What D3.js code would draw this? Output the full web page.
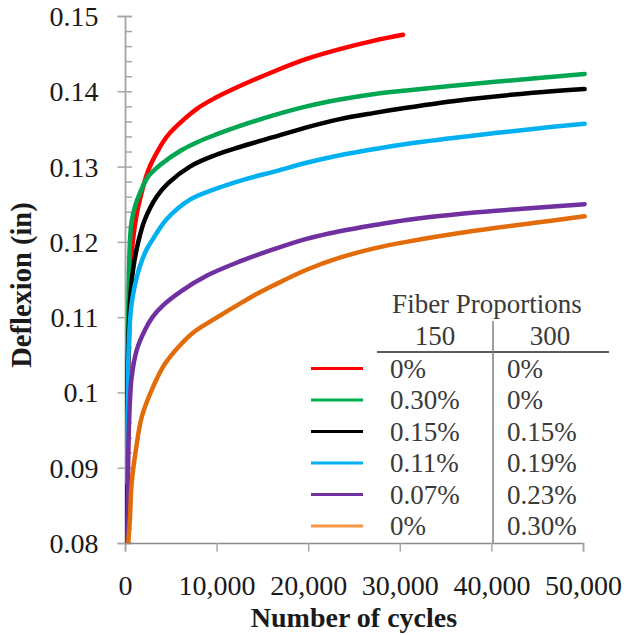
<!DOCTYPE html>
<html>
<head>
<meta charset="utf-8">
<script src="https://cdn.jsdelivr.net/npm/d3@7.9.0/dist/d3.min.js"></script>
<style>
  body { margin: 0; background: #fff; }
  svg { display: block; font-family: "Liberation Serif", "Times New Roman", serif; }
</style>
</head>
<body>
<svg id="chart" width="624" height="635"></svg>
<script>
// readings: number of cycles / deflection (in)
const redN = [300, 400, 550, 730, 1000, 1450, 2540, 3630, 4720, 6190, 8000, 9820, 12000, 16180, 19820, 23450, 27090, 30360];
const redD = [0.086, 0.104, 0.113, 0.1185, 0.1215, 0.1247, 0.1295, 0.1322, 0.1342, 0.1360, 0.1378, 0.1391, 0.1404, 0.1426, 0.1443, 0.1456, 0.1467, 0.1475];

const greenN = [180, 230, 300, 400, 545, 700, 1090, 1636, 2545, 3820, 6190, 8000, 9820, 12545, 16180, 19820, 23450, 27090, 30730, 37270, 44540, 50180];
const greenD = [0.0835, 0.096, 0.106, 0.114, 0.1202, 0.1225, 0.1247, 0.1265, 0.1287, 0.1302, 0.1322, 0.1333, 0.1342, 0.1354, 0.1368, 0.1380, 0.1389, 0.1396, 0.1401, 0.1409, 0.1417, 0.1423];

const blackN = [100, 150, 250, 400, 600, 905, 1450, 2180, 3455, 4720, 7090, 9820, 12545, 16180, 19820, 23450, 27090, 30730, 37270, 44540, 50180];
const blackD = [0.078, 0.0835, 0.100, 0.108, 0.1130, 0.1165, 0.1200, 0.1230, 0.1260, 0.1278, 0.1300, 0.1315, 0.1326, 0.1339, 0.1352, 0.1363, 0.1371, 0.1378, 0.1389, 0.1398, 0.1403];

const blueN = [200, 300, 400, 545, 725, 1090, 1636, 2365, 3270, 4545, 7090, 9820, 13090, 16180, 19820, 23450, 27090, 30730, 37270, 44540, 50180];
const blueD = [0.088, 0.100, 0.106, 0.1095, 0.1118, 0.1143, 0.1168, 0.1190, 0.1208, 0.1230, 0.1256, 0.1270, 0.1283, 0.1293, 0.1305, 0.1315, 0.1323, 0.1330, 0.1340, 0.1350, 0.1357];

const purpleN = [250, 300, 360, 545, 730, 1270, 2180, 3000, 4180, 6190, 8910, 12545, 16180, 19820, 23450, 27090, 30730, 37270, 44540, 50180];
const purpleD = [0.080, 0.087, 0.0923, 0.0990, 0.1021, 0.1056, 0.1083, 0.1100, 0.1116, 0.1135, 0.1155, 0.1174, 0.1190, 0.1204, 0.1214, 0.1222, 0.1229, 0.1238, 0.1245, 0.1250];

const orangeN = [360, 545, 725, 1180, 1820, 2910, 4360, 6190, 7500, 9820, 12545, 14730, 16180, 19820, 23450, 27090, 30730, 37270, 44540, 50180];
const orangeD = [0.080, 0.0834, 0.0879, 0.0923, 0.0967, 0.1003, 0.1038, 0.1065, 0.1080, 0.1098, 0.1118, 0.1133, 0.1142, 0.1163, 0.1179, 0.1191, 0.1200, 0.1213, 0.1225, 0.1234];

// legend table
const fiber150 = ['0%', '0.30%', '0.15%', '0.11%', '0.07%', '0%'];
const fiber300 = ['0%', '0%', '0.15%', '0.19%', '0.23%', '0.30%'];

const xTicks = [0, 10000, 20000, 30000, 40000, 50000];
const yTicks = [0.08, 0.09, 0.10, 0.11, 0.12, 0.13, 0.14, 0.15];

const series = [
  { n: redN, d: redD, color: '#ff0000', key: '#ff0000' },
  { n: greenN, d: greenD, color: '#00a651', key: '#00b050' },
  { n: blackN, d: blackD, color: '#000000', key: '#000000' },
  { n: blueN, d: blueD, color: '#00b0f0', key: '#00b0f0' },
  { n: purpleN, d: purpleD, color: '#7030a0', key: '#7030a0' },
  { n: orangeN, d: orangeD, color: '#e36c0a', key: '#f79646' }
];

const svg = d3.select('#chart');
const margin = { top: 16, right: 41, bottom: 92, left: 125 };
const width = 624 - margin.left - margin.right;
const height = 635 - margin.top - margin.bottom;

const x = d3.scaleLinear().domain([0, 50000]).range([0, width]);
const y = d3.scaleLinear().domain([0.08, 0.15]).range([height, 0]);

const g = svg.append('g').attr('transform', `translate(${margin.left},${margin.top})`);

svg.append('defs').append('clipPath').attr('id', 'plot')
  .append('rect').attr('x', 0).attr('y', -5).attr('width', width + 5).attr('height', height + 5);

// y axis: major ticks across the line, minor ticks inside
const yAxis = g.append('g')
  .call(d3.axisLeft(y).tickValues(yTicks).tickSize(7.5).tickPadding(19)
    .tickFormat(d => +d.toFixed(2)));
g.append('g')
  .call(d3.axisRight(y).tickValues(d3.range(0, 36).map(i => 0.08 + i * 0.002)).tickSize(7).tickFormat(''));

// x axis
const xAxis = g.append('g').attr('transform', `translate(0,${height})`)
  .call(d3.axisBottom(x).tickValues(xTicks).tickSize(8.5).tickPadding(24).tickFormat(d3.format(',')));

g.selectAll('.domain').attr('stroke', '#a6a6a6').attr('stroke-width', 1.5);
g.selectAll('.tick line').attr('stroke', '#a6a6a6').attr('stroke-width', 1.5);
g.selectAll('.tick text').attr('font-size', 28).attr('fill', '#1a1a1a')
  .attr('font-family', '"Liberation Serif", serif');
yAxis.selectAll('.tick text').attr('dy', '0.34em');
xAxis.select('.domain').attr('stroke', '#8c8c8c');

// axis titles
svg.append('text')
  .attr('x', margin.left + width / 2).attr('y', 627)
  .attr('text-anchor', 'middle').attr('font-weight', 'bold').attr('font-size', 28)
  .attr('fill', '#1a1a1a').text('Number of cycles');
svg.append('text')
  .attr('transform', 'translate(31,285) rotate(-90)')
  .attr('text-anchor', 'middle').attr('font-weight', 'bold').attr('font-size', 28.5)
  .attr('fill', '#1a1a1a').text('Deflexion (in)');

// curves
const line = d3.line().x(p => x(p[0])).y(p => y(p[1])).curve(d3.curveCatmullRom.alpha(0.5));
const plot = g.append('g').attr('clip-path', 'url(#plot)');
series.forEach(s => {
  plot.append('path')
    .datum(d3.zip(s.n, s.d))
    .attr('fill', 'none')
    .attr('stroke', s.color)
    .attr('stroke-width', 4.5)
    .attr('stroke-linecap', 'round')
    .attr('stroke-linejoin', 'round')
    .attr('d', line);
});

// legend table
const leg = svg.append('g').attr('font-size', 27).attr('fill', '#3a3a3a');
leg.append('text').attr('x', 487).attr('y', 313).attr('text-anchor', 'middle').text('Fiber Proportions');
leg.append('text').attr('x', 435).attr('y', 345).attr('text-anchor', 'middle').text('150');
leg.append('text').attr('x', 550).attr('y', 345).attr('text-anchor', 'middle').text('300');
leg.append('line').attr('x1', 377).attr('x2', 609).attr('y1', 352).attr('y2', 352)
  .attr('stroke', '#262626').attr('stroke-width', 1.5);
leg.append('line').attr('x1', 493).attr('x2', 493).attr('y1', 321).attr('y2', margin.top + height)
  .attr('stroke', '#7f7f7f').attr('stroke-width', 1.5);

series.forEach((s, i) => {
  const ry = 368.5 + i * 31.5;
  leg.append('line').attr('x1', 311).attr('x2', 363).attr('y1', ry).attr('y2', ry)
    .attr('stroke', s.key).attr('stroke-width', 3.2);
  leg.append('text').attr('x', 390).attr('y', ry + 9).text(fiber150[i]);
  leg.append('text').attr('x', 507).attr('y', ry + 9).text(fiber300[i]);
});
</script>
</body>
</html>
